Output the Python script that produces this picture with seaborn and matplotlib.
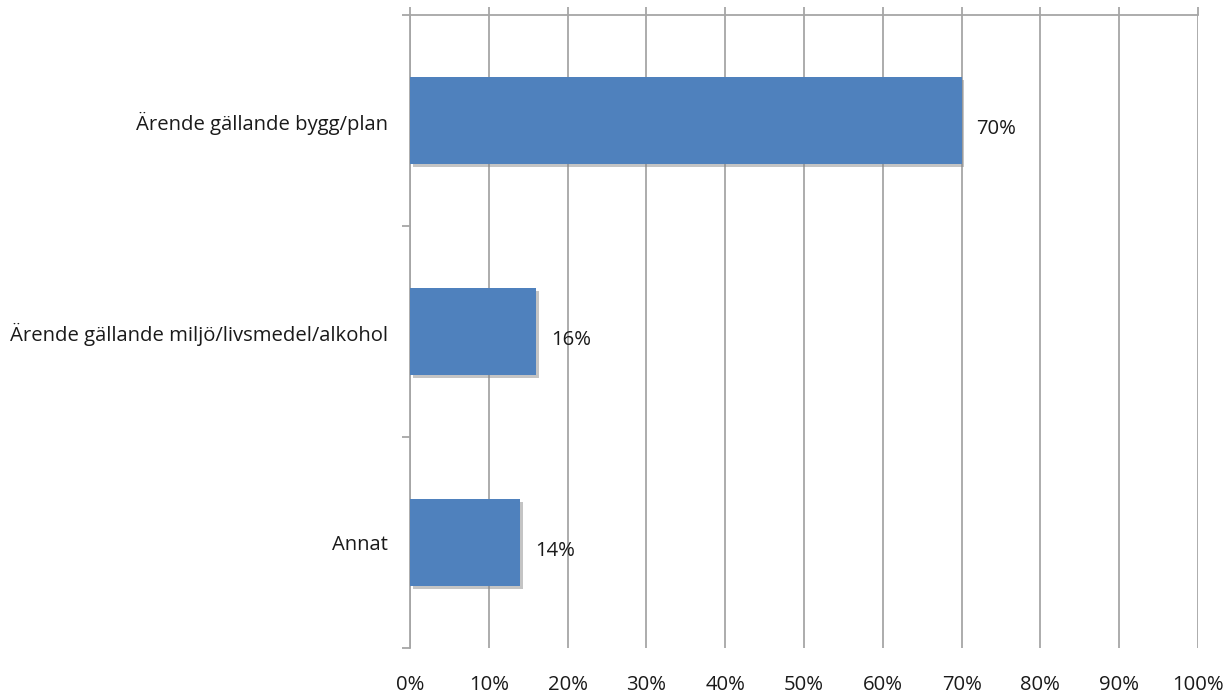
import matplotlib
matplotlib.use("Agg")
import matplotlib.pyplot as plt
import matplotlib.patheffects as pe
from matplotlib.ticker import FixedLocator, PercentFormatter
import seaborn as sns
import pandas as pd

categories = ["Ärende gällande bygg/plan",
              "Ärende gällande miljö/livsmedel/alkohol",
              "Annat"]
values = [70, 16, 14]
xticks = [0, 10, 20, 30, 40, 50, 60, 70, 80, 90, 100]

sns.set_theme(style="white")
plt.rcParams["font.family"] = ["Open Sans", "DejaVu Sans"]

df = pd.DataFrame({"cat": categories, "val": values})

fig = plt.figure(figsize=(12.28, 6.96), dpi=100)
ax = fig.add_axes([410/1228, 1-648/696, (1198-410)/1228, (648-15)/696])

grid_c = "#A6A6A6"
bar_c = "#4F81BD"
fs = 14.6

sns.barplot(data=df, y="cat", x="val", orient="h", color=bar_c, width=0.41,
            saturation=1, ax=ax, zorder=3)
for p in ax.patches:
    p.set_path_effects([pe.SimplePatchShadow(offset=(2, -2), shadow_rgbFace="#8a8a8a", alpha=0.5),
                        pe.Normal()])
    p.set_edgecolor("none")

for i, v in enumerate(values):
    ax.text(v + 1.9, i + 0.04, f"{v}%", va="center", ha="left", fontsize=fs, color="#1a1a1a", zorder=4)

ax.set_xlim(0, 100)
ax.set_ylim(2.5, -0.5)
ax.set_xlabel("")
ax.set_ylabel("")

# vertical gridlines
ax.xaxis.set_major_locator(FixedLocator(xticks))
ax.xaxis.set_major_formatter(PercentFormatter(decimals=0))
ax.grid(axis="x", color=grid_c, linewidth=1.3, zorder=0)
ax.set_axisbelow(True)

# x axis: line/ticks on top, labels at bottom
ax.tick_params(axis="x", which="major", top=True, bottom=False, labeltop=False, labelbottom=True,
               direction="out", length=5.5, width=1.3, color=grid_c, pad=14,
               labelsize=fs, labelcolor="#1a1a1a")

# y axis: ticks at category boundaries, labels at centers
ax.yaxis.set_major_locator(FixedLocator([-0.5, 0.5, 1.5, 2.5]))
ax.yaxis.set_minor_locator(FixedLocator([0, 1, 2]))
ax.set_yticklabels([], minor=False)
ax.set_yticklabels(categories, minor=True)
ax.tick_params(axis="y", which="major", left=True, length=5.5, width=1.3, color=grid_c)
ax.tick_params(axis="y", which="minor", left=True, length=0, pad=16, labelsize=fs, labelcolor="#1a1a1a")

for s in ["top", "left"]:
    ax.spines[s].set_visible(True)
    ax.spines[s].set_color(grid_c)
    ax.spines[s].set_linewidth(1.3)
for s in ["right", "bottom"]:
    ax.spines[s].set_visible(False)

fig.savefig("out.png", dpi=100)
